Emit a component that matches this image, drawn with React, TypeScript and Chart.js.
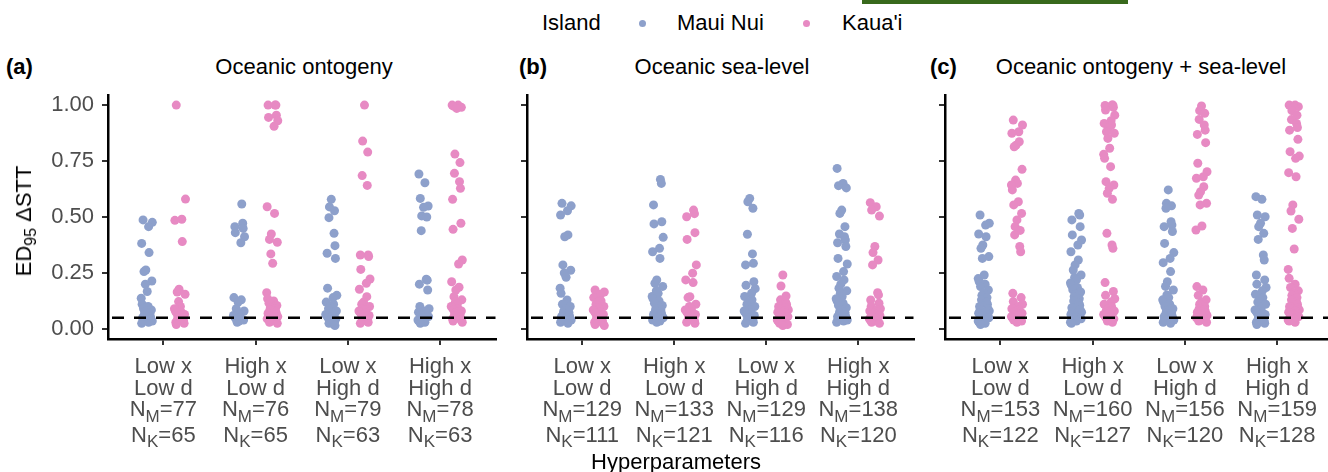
import React, { useEffect, useRef } from "react";
import { Chart, registerables } from "chart.js";
Chart.register(...registerables);

// ---------- data ----------
const PANEL_TAGS = ["(a)", "(b)", "(c)"];
const PANEL_TITLES = ["Oceanic ontogeny", "Oceanic sea-level", "Oceanic ontogeny + sea-level"];
const X_LEVELS = ["Low x", "High x", "Low x", "High x"];
const D_LEVELS = ["Low d", "Low d", "High d", "High d"];
const N_MAUI = [[77, 76, 79, 78], [129, 133, 129, 138], [153, 160, 156, 159]];
const N_KAUAI = [[65, 65, 63, 63], [111, 121, 116, 120], [122, 127, 120, 128]];
const Y_TICKS = [0, 0.25, 0.5, 0.75, 1];
const THRESHOLD = 0.05;
const SERIES = ["Maui Nui", "Kaua'i"];

const MAUI_A = [
  [0.487, 0.476, 0.457, 0.382, 0.341, 0.263, 0.256, 0.214, 0.2, 0.167, 0.137, 0.11, 0.1, 0.09, 0.085, 0.08, 0.075, 0.07, 0.065, 0.06, 0.055, 0.05, 0.045, 0.04, 0.035, 0.03, 0.025],
  [0.558, 0.472, 0.457, 0.449, 0.43, 0.412, 0.385, 0.14, 0.13, 0.12, 0.09, 0.08, 0.07, 0.065, 0.06, 0.055, 0.05, 0.045, 0.04, 0.035, 0.03],
  [0.579, 0.545, 0.528, 0.497, 0.427, 0.372, 0.338, 0.315, 0.182, 0.15, 0.14, 0.12, 0.11, 0.1, 0.09, 0.08, 0.075, 0.07, 0.065, 0.06, 0.055, 0.05, 0.045, 0.04, 0.035, 0.03, 0.025, 0.02, 0.015],
  [0.692, 0.653, 0.583, 0.549, 0.543, 0.505, 0.5, 0.439, 0.222, 0.218, 0.2, 0.174, 0.1, 0.09, 0.08, 0.075, 0.07, 0.065, 0.06, 0.055, 0.05, 0.045, 0.04, 0.035, 0.03, 0.025],
];
const KAUAI_A = [
  [1.0, 0.58, 0.49, 0.485, 0.39, 0.177, 0.165, 0.155, 0.122, 0.1, 0.09, 0.08, 0.075, 0.07, 0.065, 0.06, 0.055, 0.05, 0.045, 0.04, 0.035, 0.03, 0.025, 0.02],
  [1.0, 1.0, 1.0, 0.955, 0.945, 0.93, 0.905, 0.546, 0.516, 0.424, 0.4, 0.387, 0.335, 0.293, 0.162, 0.135, 0.125, 0.115, 0.105, 0.1, 0.095, 0.09, 0.085, 0.08, 0.075, 0.07, 0.065, 0.06, 0.055, 0.05, 0.045, 0.04, 0.035, 0.03, 0.025],
  [1.0, 0.839, 0.79, 0.685, 0.641, 0.33, 0.33, 0.323, 0.266, 0.223, 0.204, 0.177, 0.144, 0.12, 0.11, 0.1, 0.09, 0.085, 0.08, 0.075, 0.07, 0.065, 0.06, 0.055, 0.05, 0.045, 0.04, 0.035, 0.03, 0.025],
  [1.0, 1.0, 0.995, 0.99, 0.985, 0.781, 0.743, 0.695, 0.658, 0.628, 0.579, 0.472, 0.445, 0.308, 0.29, 0.211, 0.186, 0.174, 0.144, 0.13, 0.12, 0.11, 0.1, 0.095, 0.09, 0.085, 0.08, 0.075, 0.07, 0.065, 0.06, 0.055, 0.05, 0.045, 0.04, 0.035, 0.03],
];
const MAUI_B = [
  [0.561, 0.55, 0.528, 0.509, 0.42, 0.412, 0.286, 0.262, 0.25, 0.231, 0.182, 0.159, 0.129, 0.11, 0.1, 0.09, 0.08, 0.075, 0.07, 0.065, 0.06, 0.055, 0.05, 0.045, 0.04, 0.035, 0.03, 0.025],
  [0.668, 0.65, 0.554, 0.479, 0.469, 0.409, 0.36, 0.345, 0.315, 0.219, 0.204, 0.19, 0.17, 0.159, 0.145, 0.135, 0.125, 0.115, 0.105, 0.1, 0.09, 0.085, 0.08, 0.075, 0.07, 0.065, 0.06, 0.055, 0.05, 0.045, 0.04, 0.035, 0.03],
  [0.583, 0.568, 0.539, 0.423, 0.335, 0.293, 0.286, 0.211, 0.195, 0.18, 0.159, 0.145, 0.13, 0.12, 0.11, 0.1, 0.09, 0.085, 0.08, 0.075, 0.07, 0.065, 0.06, 0.055, 0.05, 0.045, 0.04, 0.035, 0.03, 0.025],
  [0.717, 0.65, 0.64, 0.63, 0.531, 0.516, 0.457, 0.424, 0.412, 0.397, 0.385, 0.368, 0.315, 0.29, 0.256, 0.234, 0.219, 0.2, 0.182, 0.17, 0.159, 0.145, 0.135, 0.125, 0.115, 0.105, 0.095, 0.085, 0.08, 0.075, 0.07, 0.065, 0.06, 0.055, 0.05, 0.045, 0.04, 0.035, 0.03],
];
const KAUAI_B = [
  [0.174, 0.165, 0.155, 0.14, 0.125, 0.12, 0.11, 0.1, 0.095, 0.09, 0.085, 0.08, 0.075, 0.07, 0.065, 0.06, 0.055, 0.05, 0.045, 0.04, 0.035, 0.03, 0.025, 0.02, 0.015],
  [0.531, 0.515, 0.501, 0.43, 0.4, 0.286, 0.249, 0.219, 0.207, 0.144, 0.14, 0.11, 0.1, 0.09, 0.085, 0.08, 0.075, 0.07, 0.065, 0.06, 0.055, 0.05, 0.045, 0.04, 0.035, 0.03, 0.025],
  [0.241, 0.192, 0.147, 0.13, 0.12, 0.11, 0.1, 0.095, 0.09, 0.085, 0.08, 0.075, 0.07, 0.065, 0.06, 0.055, 0.05, 0.045, 0.04, 0.035, 0.03, 0.025, 0.02, 0.015],
  [0.564, 0.546, 0.531, 0.504, 0.368, 0.341, 0.308, 0.286, 0.162, 0.152, 0.129, 0.115, 0.1, 0.09, 0.085, 0.08, 0.075, 0.07, 0.065, 0.06, 0.055, 0.05, 0.045, 0.04, 0.035, 0.03, 0.025],
];
const MAUI_C = [
  [0.509, 0.472, 0.464, 0.424, 0.412, 0.375, 0.36, 0.323, 0.315, 0.241, 0.225, 0.212, 0.2, 0.189, 0.174, 0.16, 0.15, 0.14, 0.13, 0.12, 0.11, 0.1, 0.09, 0.085, 0.08, 0.075, 0.07, 0.065, 0.06, 0.055, 0.05, 0.045, 0.04, 0.035, 0.03, 0.025, 0.02],
  [0.516, 0.509, 0.487, 0.457, 0.42, 0.397, 0.375, 0.345, 0.308, 0.286, 0.263, 0.241, 0.23, 0.219, 0.205, 0.195, 0.185, 0.175, 0.165, 0.155, 0.145, 0.135, 0.125, 0.115, 0.105, 0.095, 0.085, 0.08, 0.075, 0.07, 0.065, 0.06, 0.055, 0.05, 0.045, 0.04, 0.035, 0.03, 0.025],
  [0.621, 0.561, 0.55, 0.539, 0.479, 0.464, 0.457, 0.435, 0.382, 0.341, 0.315, 0.296, 0.256, 0.211, 0.19, 0.174, 0.152, 0.14, 0.13, 0.12, 0.11, 0.1, 0.09, 0.085, 0.08, 0.075, 0.07, 0.065, 0.06, 0.055, 0.05, 0.045, 0.04, 0.035, 0.03, 0.025],
  [0.591, 0.579, 0.509, 0.501, 0.472, 0.457, 0.427, 0.4, 0.33, 0.308, 0.241, 0.219, 0.2, 0.185, 0.17, 0.155, 0.14, 0.13, 0.12, 0.11, 0.1, 0.09, 0.085, 0.08, 0.075, 0.07, 0.065, 0.06, 0.055, 0.05, 0.045, 0.04, 0.035, 0.03, 0.025, 0.02],
];
const KAUAI_C = [
  [0.933, 0.911, 0.881, 0.874, 0.836, 0.821, 0.814, 0.713, 0.665, 0.65, 0.643, 0.621, 0.568, 0.554, 0.516, 0.487, 0.457, 0.44, 0.42, 0.368, 0.345, 0.159, 0.14, 0.122, 0.11, 0.1, 0.09, 0.085, 0.08, 0.075, 0.07, 0.065, 0.06, 0.055, 0.05, 0.045, 0.04, 0.035, 0.03],
  [1.0, 1.0, 0.998, 0.99, 0.978, 0.955, 0.93, 0.918, 0.911, 0.9, 0.881, 0.874, 0.851, 0.807, 0.78, 0.762, 0.725, 0.658, 0.643, 0.628, 0.606, 0.579, 0.427, 0.375, 0.36, 0.207, 0.167, 0.15, 0.135, 0.12, 0.11, 0.1, 0.09, 0.085, 0.08, 0.075, 0.07, 0.065, 0.06, 0.055, 0.05, 0.045, 0.04, 0.035, 0.03],
  [0.996, 0.975, 0.963, 0.936, 0.911, 0.888, 0.869, 0.832, 0.74, 0.702, 0.68, 0.673, 0.635, 0.613, 0.598, 0.561, 0.554, 0.46, 0.442, 0.189, 0.174, 0.15, 0.13, 0.12, 0.11, 0.1, 0.09, 0.085, 0.08, 0.075, 0.07, 0.065, 0.06, 0.055, 0.05, 0.045, 0.04, 0.035, 0.03],
  [1.0, 1.0, 0.997, 0.993, 0.99, 0.975, 0.955, 0.935, 0.918, 0.9, 0.888, 0.847, 0.792, 0.772, 0.762, 0.698, 0.68, 0.554, 0.527, 0.49, 0.449, 0.357, 0.266, 0.226, 0.2, 0.185, 0.17, 0.16, 0.15, 0.14, 0.13, 0.12, 0.11, 0.1, 0.095, 0.09, 0.085, 0.08, 0.075, 0.07, 0.065, 0.06, 0.055, 0.05, 0.045, 0.04, 0.035, 0.03],
];
const MAUI = [MAUI_A, MAUI_B, MAUI_C];
const KAUAI = [KAUAI_A, KAUAI_B, KAUAI_C];

// fixed jitter offsets (category units), a position aid only
const JITTER = [-0.04, 0.05, -0.01, 0.03, -0.06, 0.06, 0.0, -0.03, 0.04, -0.05, 0.02, -0.02, 0.055, -0.045, 0.015, -0.055, 0.035, -0.015, 0.045, -0.035, 0.025, -0.025, 0.005];

// ---------- styling / layout ----------
const FONT = "'Liberation Sans', Arial, Helvetica, sans-serif";
const BLUE = "#8DA0CB";
const PINK = "#E78AC3";
const TICK_GREY = "#4D4D4D";
const DODGE = 0.18;
const POINT_R = 4.5;
const CANVAS_TOP = 65;
const CANVAS_H = 407;
const TOP_PAD = 30;
const X_AXIS_H = 133;
const GEOM = [
  { left: 0, axisW: 108, width: 500 },
  { left: 510, axisW: 17, width: 408 },
  { left: 930, axisW: 15, width: 407 },
];

function drawSub(ctx: CanvasRenderingContext2D, main: string, sub: string, rest: string, cx: number, y: number) {
  const big = `22px ${FONT}`;
  const small = `17px ${FONT}`;
  ctx.font = big;
  const w1 = ctx.measureText(main).width;
  const w3 = ctx.measureText(rest).width;
  ctx.font = small;
  const w2 = ctx.measureText(sub).width;
  let x = cx - (w1 + w2 + w3) / 2;
  ctx.textAlign = "left";
  ctx.font = big;
  ctx.fillText(main, x, y);
  x += w1;
  ctx.font = small;
  ctx.fillText(sub, x, y + 5.5);
  x += w2;
  ctx.font = big;
  ctx.fillText(rest, x, y);
}

function makePlugin(p: number) {
  return {
    id: "facetDecor" + p,
    afterDatasetsDraw(chart: any) {
      const { ctx, chartArea } = chart;
      const y = chart.scales.y.getPixelForValue(THRESHOLD);
      ctx.save();
      ctx.strokeStyle = "#000000";
      ctx.lineWidth = 2.5;
      ctx.setLineDash([12, 10]);
      ctx.beginPath();
      ctx.moveTo(chartArea.left + 4, y);
      ctx.lineTo(chartArea.right, y);
      ctx.stroke();
      ctx.restore();
    },
    afterDraw(chart: any) {
      const { ctx, chartArea } = chart;
      const xs = chart.scales.x;
      ctx.save();
      ctx.fillStyle = TICK_GREY;
      ctx.textBaseline = "alphabetic";
      const b = chartArea.bottom;
      for (let i = 0; i < X_LEVELS.length; i++) {
        const cx = xs.getPixelForValue(i + 1);
        ctx.font = `22px ${FONT}`;
        ctx.textAlign = "center";
        ctx.fillText(X_LEVELS[i], cx, b + 34);
        ctx.fillText(D_LEVELS[i], cx, b + 55.5);
        drawSub(ctx, "N", "M", "=" + N_MAUI[p][i], cx, b + 77);
        drawSub(ctx, "N", "K", "=" + N_KAUAI[p][i], cx, b + 102.5);
      }
      ctx.restore();
    },
  };
}

function toPoints(groups: number[][], dodge: number) {
  return groups.flatMap((vals, ci) =>
    vals.map((v, j) => ({ x: ci + 1 + dodge + JITTER[(j * 5 + ci * 3) % JITTER.length], y: v }))
  );
}

function Panel({ p }: { p: number }) {
  const ref = useRef<HTMLCanvasElement>(null);
  const g = GEOM[p];
  useEffect(() => {
    const grid = { display: true, drawOnChartArea: false, drawTicks: true, tickLength: 6, lineWidth: 2, color: "#333333" };
    const border = { display: true, color: "#000000", width: 2.5 };
    const chart = new Chart(ref.current as HTMLCanvasElement, {
      type: "scatter",
      data: {
        datasets: [
          { label: SERIES[0], data: toPoints(MAUI[p], -DODGE), backgroundColor: BLUE, borderWidth: 0, pointRadius: POINT_R, pointHoverRadius: POINT_R },
          { label: SERIES[1], data: toPoints(KAUAI[p], DODGE), backgroundColor: PINK, borderWidth: 0, pointRadius: POINT_R, pointHoverRadius: POINT_R },
        ],
      },
      options: {
        animation: false,
        responsive: false,
        maintainAspectRatio: false,
        devicePixelRatio: 1,
        layout: { padding: { top: TOP_PAD, left: 0, right: 0, bottom: 0 } },
        plugins: { legend: { display: false }, tooltip: { enabled: false } },
        scales: {
          x: {
            type: "linear",
            min: 0.4,
            max: 4.6,
            afterBuildTicks: (s: any) => { s.ticks = X_LEVELS.map((_, i) => ({ value: i + 1 })); },
            afterFit: (s: any) => { s.height = X_AXIS_H; },
            ticks: { callback: () => "", autoSkip: false },
            grid,
            border,
          },
          y: {
            type: "linear",
            min: -0.045,
            max: 1.045,
            afterBuildTicks: (s: any) => { s.ticks = Y_TICKS.map((v) => ({ value: v })); },
            afterFit: (s: any) => { s.width = g.axisW; },
            ticks: {
              autoSkip: false,
              callback: (v: any) => (p === 0 ? Number(v).toFixed(2) : ""),
              color: TICK_GREY,
              font: { family: FONT, size: 22 },
              padding: 8,
            },
            grid,
            border,
          },
        },
      },
      plugins: [makePlugin(p)],
    } as any);
    return () => chart.destroy();
  }, [p]);
  return (
    <canvas
      ref={ref}
      width={g.width}
      height={CANVAS_H}
      style={{ position: "absolute", left: g.left, top: CANVAS_TOP, width: g.width, height: CANVAS_H }}
    />
  );
}

const txt = (extra: React.CSSProperties): React.CSSProperties => ({
  position: "absolute",
  fontFamily: FONT,
  fontSize: 22,
  lineHeight: "22px",
  whiteSpace: "nowrap",
  color: "#000",
  ...extra,
});

const TITLE_CENTERS = [304, 722, 1141];
const TAG_LEFTS = [6, 519, 930];

export default function App() {
  return (
    <div style={{ position: "fixed", left: 0, top: 0, width: 1328, height: 472, overflow: "hidden", background: "#fff" }}>
      <div style={{ position: "absolute", left: 862, top: 0, width: 266, height: 4, background: "#38691c" }} />
      {/* legend */}
      <div style={txt({ left: 542, top: 12 })}>Island</div>
      <div style={{ position: "absolute", left: 642 - 3.5, top: 23 - 3.5, width: 7, height: 7, borderRadius: "50%", background: BLUE }} />
      <div style={txt({ left: 677, top: 12 })}>{SERIES[0]}</div>
      <div style={{ position: "absolute", left: 806 - 3.5, top: 23 - 3.5, width: 7, height: 7, borderRadius: "50%", background: PINK }} />
      <div style={txt({ left: 842, top: 12 })}>{SERIES[1]}</div>
      {/* panel tags and titles */}
      {PANEL_TAGS.map((t, i) => (
        <div key={"tag" + i} style={txt({ left: TAG_LEFTS[i], top: 56, fontWeight: "bold" })}>{t}</div>
      ))}
      {PANEL_TITLES.map((t, i) => (
        <div key={"title" + i} style={txt({ left: TITLE_CENTERS[i], top: 56, transform: "translateX(-50%)" })}>{t}</div>
      ))}
      {[0, 1, 2].map((p) => (
        <Panel key={p} p={p} />
      ))}
      {/* axis titles */}
      <div style={txt({ left: 25, top: 221, transform: "translate(-50%, -50%) rotate(-90deg)" })}>
        ED<span style={{ fontSize: 16, position: "relative", top: 5 }}>95</span> ΔSTT
      </div>
      <div style={txt({ left: 676, top: 451, transform: "translateX(-50%)" })}>Hyperparameters</div>
    </div>
  );
}
